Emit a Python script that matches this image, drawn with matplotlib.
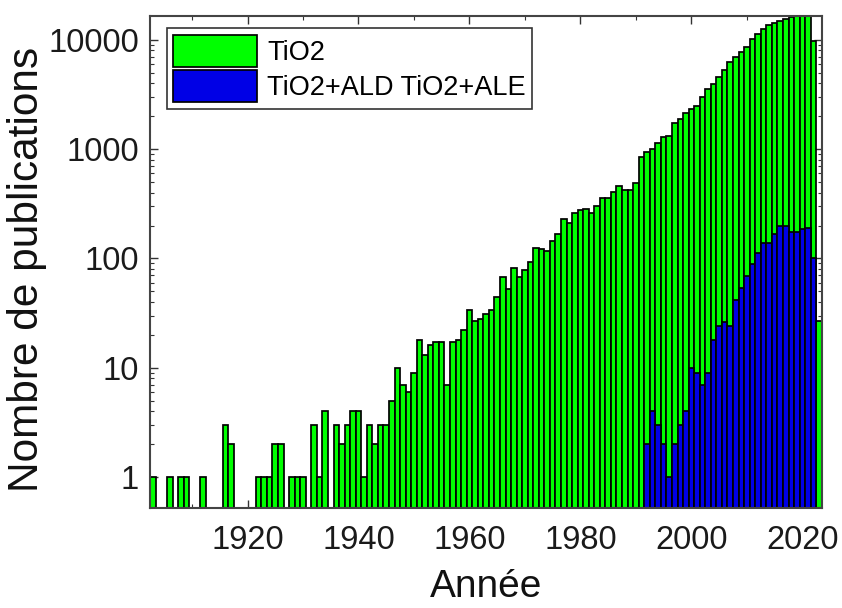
import numpy as np
import matplotlib
matplotlib.use("Agg")
import matplotlib.pyplot as plt
from matplotlib.ticker import FixedLocator, LogLocator, NullFormatter

plt.rcParams['font.family'] = ['Liberation Sans', 'DejaVu Sans']

years = list(range(1903, 2024))

tio2 = [
    1, 0, 0, 1, 0, 1, 1, 0, 0, 1,            # 1903-1912
    0, 0, 0, 3, 2, 0, 0, 0, 0, 1,            # 1913-1922
    1, 1, 2, 2, 0, 1, 1, 1, 0, 3,            # 1923-1932
    1, 4, 0, 3, 2, 3, 4, 4, 1, 3,            # 1933-1942
    2, 3, 3, 5, 10, 7, 6, 9, 18, 13,         # 1943-1952
    16, 17, 17, 7, 17, 18, 22, 34, 27, 28,   # 1953-1962
    31, 34, 44, 67, 53, 82, 67, 79, 93, 125, # 1963-1972
    121, 117, 144, 166, 228, 210, 263, 277, 286, 263,  # 1973-1982
    302, 360, 360, 406, 460, 423, 423, 485, 839, 945,  # 1983-1992
    1000, 1128, 1280, 1325, 1720, 1885, 2140, 2330, 2495, 2980,  # 1993-2002
    3550, 3950, 4550, 5340, 6240, 6940, 7710, 8570, 10200, 11350,  # 2003-2012
    12440, 13540, 14320, 15000, 15580, 16150, 17500, 18500, 18000, 9860,  # 2013-2022
    27,                                       # 2023
]

ald = [0] * (1992 - 1903) + [
    2, 4, 3, 2, 1, 2, 3, 4, 10, 9,           # 1992-2001
    7, 9, 18, 24, 26, 24, 42, 54, 69, 88,    # 2002-2011
    113, 139, 139, 166, 198, 198, 174, 174, 185, 191,  # 2012-2021
    101, 0,                                   # 2022-2023
]

labels = ["TiO2", "TiO2+ALD TiO2+ALE"]
xticks = [1920, 1940, 1960, 1980, 2000, 2020]
yticks = [1, 10, 100, 1000, 10000]

fig = plt.figure(figsize=(8.42, 6.08), dpi=100)
ax = fig.add_axes([0.178, 0.1645, 0.798, 0.8095])

yrs = np.array(years, dtype=float)
g = np.array(tio2, dtype=float)
b = np.array(ald, dtype=float)
mg = g > 0
mb = b > 0

ax.bar(yrs[mg], g[mg], width=1.0, color='#00ff00', edgecolor='black',
       linewidth=1.25, label=labels[0], zorder=2)
ax.bar(yrs[mb], b[mb], width=1.0, color='#0000e6', edgecolor='black',
       linewidth=1.25, label=labels[1], zorder=3)

ax.set_yscale('log')
ax.set_xlim(1902.4, 2023.5)
ax.set_ylim(0.52, 16600)

ax.xaxis.set_major_locator(FixedLocator(xticks))
ax.xaxis.set_minor_locator(FixedLocator(list(range(1910, 2030, 10))))
ax.set_xticklabels([str(t) for t in xticks])
ax.yaxis.set_major_locator(FixedLocator(yticks))
ax.yaxis.set_minor_locator(LogLocator(base=10, subs=np.arange(2, 10)))
ax.yaxis.set_minor_formatter(NullFormatter())
ax.set_yticklabels([str(t) for t in yticks])

ax.tick_params(axis='both', which='both', direction='in', top=True, right=True,
               colors='#333333', labelcolor='#1a1a1a')
ax.tick_params(axis='both', which='major', length=6, width=1.0, labelsize=23.5)
ax.tick_params(axis='both', which='minor', length=3, width=0.8)
ax.tick_params(axis='x', which='major', pad=12)
ax.tick_params(axis='y', which='major', pad=8)

for s in ax.spines.values():
    s.set_color('#444444')
    s.set_linewidth(1.5)
    s.set_zorder(5)

ax.set_xlabel("Année", fontsize=28, color='#111111')
ax.set_ylabel("Nombre de publications", fontsize=30.5, color='#111111')
ax.xaxis.set_label_coords(0.5, -0.124)
ax.yaxis.set_label_coords(-0.153, 0.485)

leg = ax.legend(loc='upper left', bbox_to_anchor=(0.025, 0.975), fontsize=19.5,
                frameon=True, fancybox=False, edgecolor='black',
                handlelength=3.1, handleheight=1.45, handletextpad=0.35,
                borderpad=0.25, labelspacing=0.1, borderaxespad=0.0)
leg.get_frame().set_linewidth(1.2)
leg.set_zorder(10)

fig.savefig("out.png", dpi=100)
